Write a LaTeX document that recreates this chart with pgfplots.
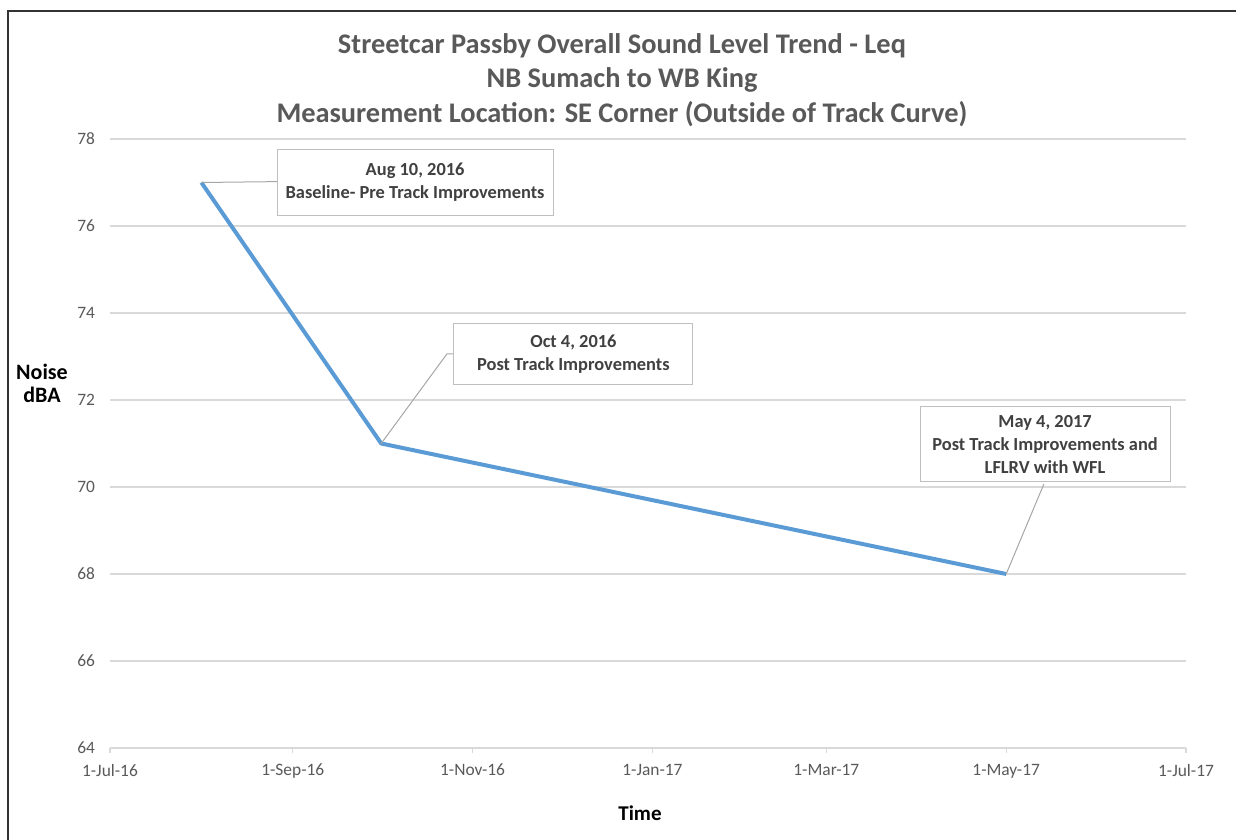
\documentclass[border=0pt]{standalone}
\usepackage{pgfplots}
\pgfplotsset{compat=1.18}
\usepackage{fontspec}
\setmainfont{Carlito}
\definecolor{titlegray}{HTML}{595959}
\definecolor{gridgray}{HTML}{D9D9D9}
\definecolor{linegray}{HTML}{A6A6A6}
\definecolor{boxgray}{HTML}{BFBFBF}
\definecolor{txtgray}{HTML}{404040}
\definecolor{serblue}{HTML}{5B9BD5}
\begin{document}
\begin{tikzpicture}
\path[use as bounding box] (0pt,0pt) rectangle (618pt,420pt);
\draw[line width=1.2pt, color=black!80] (4pt,0pt) -- (4pt,414.5pt) -- (618pt,414.5pt);
\node[align=center, text=titlegray, font=\fontsize{14.2}{17.2}\selectfont\bfseries] at (311pt,380pt) {Streetcar Passby Overall Sound Level Trend - Leq\\NB Sumach to WB King\\Measurement Location: SE Corner (Outside of Track Curve)};
\node[align=center, font=\fontsize{11}{11.5}\selectfont\bfseries] at (21pt,228.5pt) {Noise\\dBA};
\node[font=\fontsize{10.5}{12}\selectfont\bfseries] at (320pt,13.5pt) {Time};
\begin{axis}[
  at={(55pt,46pt)}, anchor=south west,
  scale only axis, width=538pt, height=304.5pt,
  xmin=0, xmax=365, ymin=64, ymax=78,
  xtick={0,62,123,184,243,304,365},
  xticklabels={1-Jul-16,1-Sep-16,1-Nov-16,1-Jan-17,1-Mar-17,1-May-17,1-Jul-17},
  ytick={64,66,68,70,72,74,76,78},
  ymajorgrids, grid style={color=gridgray, line width=0.6pt},
  axis x line*=bottom, axis y line*=left,
  x axis line style={color=gridgray, line width=0.6pt, -},
  y axis line style={draw=none},
  xtick style={color=gridgray, line width=0.6pt}, ytick style={draw=none},
  tick align=outside, major tick length=2.5pt,
  /pgf/number format/assume math mode=true,
  ticklabel style={text=titlegray, font=\fontsize{8.7}{10}\selectfont},
  xticklabel style={yshift=-2pt},
  yticklabel style={xshift=-1.5pt},
  clip=false,
]
\addplot[color=serblue, line width=2pt, line join=round] coordinates {(31,77) (92,71) (304,68)};
\draw[linegray, line width=0.5pt] (axis cs:31,77) -- (axis cs:56.6,77.02);
\draw[linegray, line width=0.5pt] (axis cs:92,71) -- (axis cs:114.3,73.06) -- (axis cs:116.7,73.06);
\draw[linegray, line width=0.5pt] (axis cs:304,68) -- (axis cs:316.8,70.07);
\node[draw=boxgray, fill=white, line width=0.5pt, minimum width=138pt, minimum height=33pt, align=center, text=txtgray, font=\fontsize{9.2}{11.5}\selectfont\bfseries] at (axis cs:103.5,77.0) {Aug 10, 2016\\Baseline- Pre Track Improvements};
\node[draw=boxgray, fill=white, line width=0.5pt, minimum width=119.5pt, minimum height=30.5pt, align=center, text=txtgray, font=\fontsize{9.2}{11.5}\selectfont\bfseries] at (axis cs:157.2,73.05) {Oct 4, 2016\\Post Track Improvements};
\node[draw=boxgray, fill=white, line width=0.5pt, minimum width=125pt, minimum height=37.5pt, align=center, text=txtgray, font=\fontsize{9.2}{11.5}\selectfont\bfseries] at (axis cs:317.2,70.98) {May 4, 2017\\Post Track Improvements and\\LFLRV with WFL};
\end{axis}
\end{tikzpicture}
\end{document}
